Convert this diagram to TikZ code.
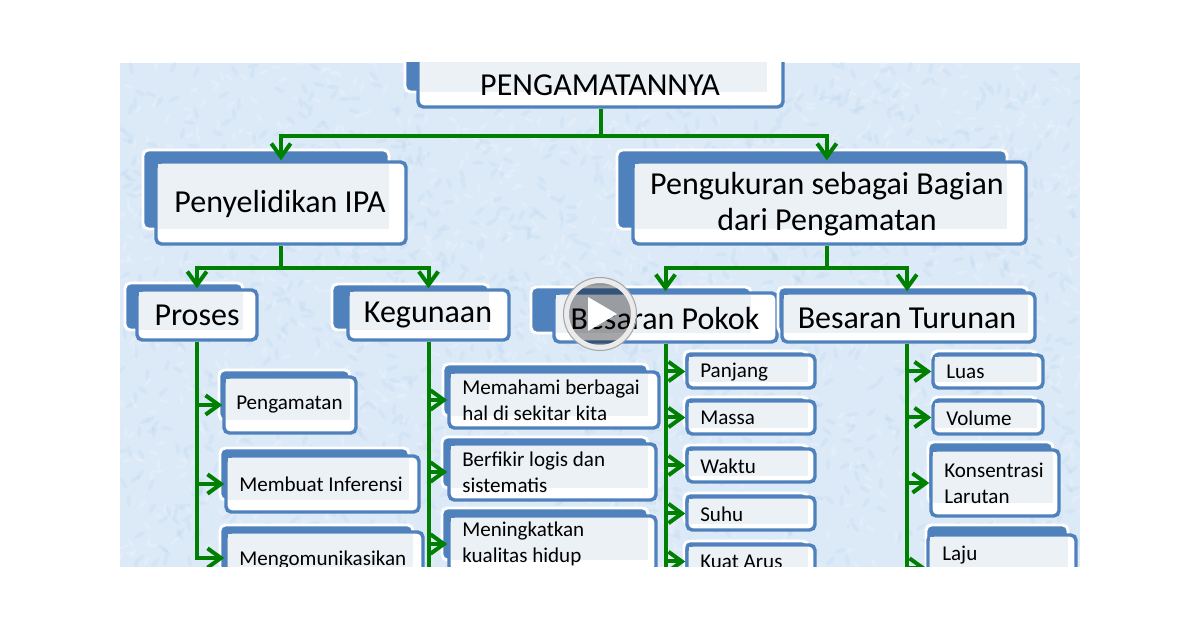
\documentclass[tikz,border=0pt]{standalone}
\usepackage{xcolor}
\usepackage{fontspec}
\setmainfont{Carlito}
\usetikzlibrary{arrows.meta,fit}
\definecolor{hijauPanah}{HTML}{008000}
\definecolor{biruKotak}{HTML}{4F81BD}
\definecolor{isiKotak}{HTML}{ECF1F6}
\definecolor{latarBiru}{HTML}{DCEAF8}
\definecolor{latarTua}{HTML}{C3D9F0}
\definecolor{latarMuda}{HTML}{F2F7FC}
\tikzset{
  garis/.style={hijauPanah,line width=3pt},
  panah/.style={garis,-{Straight Barb[length=10pt,width=14.5pt,line width=3pt]}},
  belakang/.style={fill=biruKotak,draw=white,line width=2.2pt,rounded corners=4pt},
  depan/.style={fill=white,draw=biruKotak,line width=2.6pt,rounded corners=4pt,inner sep=0pt},
  teksBesar/.style={font=\fontsize{24}{27}\selectfont,align=center,inner sep=0pt,yshift=-1.6pt},
  teksSedang/.style={font=\fontsize{24}{26}\selectfont,inner sep=0pt,yshift=-1pt},
  teksKecil/.style={font=\fontsize{15.8}{19.5}\selectfont,align=left,anchor=west,inner sep=0pt},
}
% nama, kotak depan (x0,y0,x1,y1), kotak belakang (x0,y0,x1,y1)
\newcommand{\kotak}[9]{
  \draw[belakang] (#6,#7) rectangle (#8,#9);
  \node[depan,fit={(#2,#3)(#4,#5)}] (#1) {};
  \fill[isiKotak] ({#2+2},{#3+2}) rectangle (#8,#9);
}
\begin{document}
\begin{tikzpicture}[x=0.75pt,y=-0.75pt]
\useasboundingbox (0,0) rectangle (1200,630);
\begin{scope}
\clip (120,63) rectangle (1080,567);
\fill[latarBiru] (120,63) rectangle (1080,567);
% tekstur latar
\pgfmathsetseed{7}
\foreach \i in {1,...,1400}{
  \pgfmathsetmacro{\px}{120+960*rnd}
  \pgfmathsetmacro{\py}{63+504*rnd}
  \pgfmathsetmacro{\sudut}{180*rnd}
  \fill[latarTua,opacity=0.35,rotate around={\sudut:(\px,\py)}] (\px,\py) ellipse (6 and 2);
  \pgfmathsetmacro{\px}{120+960*rnd}
  \pgfmathsetmacro{\py}{63+504*rnd}
  \fill[latarMuda,opacity=0.28,rotate around={\sudut:(\px,\py)}] (\px,\py) ellipse (5 and 1.6);
}
\coordinate (bawah) at (600,575);
% kotak atas
\kotak{akar}{418}{30}{783}{107}{405}{20}{767}{92}
\node[teksBesar] (akarT) at (600,83) {PENGAMATANNYA};
\kotak{selidik}{156}{162}{406}{244}{143}{150}{389}{229}
\node[teksBesar] (selidikT) at (280,202) {Penyelidikan IPA};
\kotak{ukur}{633}{162}{1026}{244}{617}{150}{1007}{229}
\node[teksBesar] (ukurT) at (827,202) {Pengukuran sebagai Bagian\\dari Pengamatan};
% kotak tengah
\kotak{proses}{137}{290}{257}{340}{125}{283}{243}{330}
\node[teksSedang] (prosesT) at (197,314) {Proses};
\kotak{guna}{348}{290}{509}{340}{332}{284}{489}{330}
\node[teksSedang] (gunaT) at (428,314) {Kegunaan};
\kotak{pokok}{554}{293}{777}{342}{531}{287}{751}{333}
\node[teksSedang] (pokokT) at (665,317) {Besaran Pokok};
\kotak{turunan}{782}{293}{1035}{342}{778}{287}{1028}{333}
\node[teksSedang] (turunanT) at (907,317) {Besaran Turunan};
% proses
\kotak{amat}{224}{377}{356}{433}{219}{370}{350}{420}
\node[teksKecil] (amatT) at (236,405) {Pengamatan};
\kotak{infer}{226}{456}{419}{512}{220}{448}{409}{500}
\node[teksKecil] (inferT) at (239,484) {Membuat Inferensi};
\kotak{komunikasi}{226}{532}{423}{584}{220}{525}{413}{572}
\node[teksKecil] (komunikasiT) at (239,560) {Mengomunikasikan};
% kegunaan
\kotak{paham}{449}{372}{659}{428}{443}{364}{648}{416}
\node[teksKecil] (pahamT) at (462,400) {Memahami berbagai\\hal di sekitar kita};
\kotak{fikir}{449}{444}{656}{500}{442}{437}{648}{488}
\node[teksKecil] (fikirT) at (462,472) {Berfikir logis dan\\sistematis};
\kotak{mutu}{449}{516}{656}{572}{442}{508}{648}{560}
\node[teksKecil] (mutuT) at (462,544) {Meningkatkan\\kualitas hidup};
% besaran pokok
\kotak{panjang}{687}{355}{815}{388}{684}{351}{808}{382}
\node[teksKecil] (panjangT) at (700,372) {Panjang};
\kotak{massa}{687}{401}{815}{434}{684}{397}{808}{428}
\node[teksKecil] (massaT) at (700,418) {Massa};
\kotak{waktu}{687}{449}{815}{482}{684}{445}{808}{476}
\node[teksKecil] (waktuT) at (700,466) {Waktu};
\kotak{suhu}{687}{497}{815}{530}{684}{493}{808}{524}
\node[teksKecil] (suhuT) at (700,514) {Suhu};
\kotak{arus}{687}{545}{815}{578}{684}{541}{808}{572}
\node[teksKecil] (arusT) at (700,562) {Kuat Arus};
% besaran turunan
\kotak{luas}{933}{355}{1043}{388}{932}{351}{1037}{382}
\node[teksKecil] (luasT) at (946,372) {Luas};
\kotak{volume}{933}{401}{1043}{434}{932}{397}{1037}{428}
\node[teksKecil] (volumeT) at (946,418) {Volume};
\kotak{larutan}{931}{450}{1059}{516}{928}{442}{1053}{503}
\node[teksKecil] (larutanT) at (944,483) {Konsentrasi\\Larutan};
\kotak{laju}{928}{535}{1076}{601}{926}{525}{1068}{590}
\node[teksKecil] (lajuT) at (942,555) {Laju};
% penghubung
\draw[panah] (akar.south) -- ++(0,27) -| (selidik.north);
\draw[panah] (akar.south) -- ++(0,27) -| ([xshift=-2pt]ukur.north);
\draw[panah] (selidik.south) -- ++(0,22) -| (proses.north);
\draw[panah] (selidik.south) -- ++(0,22) -| (guna.north);
\draw[panah] ([xshift=-2pt]ukur.south) -- ++(0,22) -| (pokok.north);
\draw[panah] ([xshift=-2pt]ukur.south) -- ++(0,22) -| ([xshift=-1pt]turunan.north);
\draw[panah] (proses.south) |- (amat.west);
\draw[panah] (proses.south) |- (infer.west);
\draw[panah] (proses.south) |- (komunikasi.west);
\draw[garis] (guna.south) -- (guna.south |- bawah);
\draw[panah] (guna.south) |- (paham.west);
\draw[panah] (guna.south) |- (fikir.west);
\draw[panah] (guna.south) |- (mutu.west);
\draw[garis] (pokok.south) -- (pokok.south |- bawah);
\draw[panah] (pokok.south) |- (panjang.west);
\draw[panah] (pokok.south) |- (massa.west);
\draw[panah] (pokok.south) |- (waktu.west);
\draw[panah] (pokok.south) |- (suhu.west);
\draw[panah] (pokok.south) |- (arus.west);
\draw[garis] ([xshift=-1pt]turunan.south) -- ([xshift=-1pt]turunan.south |- bawah);
\draw[panah] ([xshift=-1pt]turunan.south) |- (luas.west);
\draw[panah] ([xshift=-1pt]turunan.south) |- (volume.west);
\draw[panah] ([xshift=-1pt]turunan.south) |- (larutan.west);
\draw[panah] ([xshift=-1pt]turunan.south) |- (laju.west);
\end{scope}
% tombol putar
\fill[black,opacity=0.35] (600,314) circle (32);
\draw[white!92!black,line width=3.8pt] (600,314) circle (33.5);
\draw[gray!70,line width=0.8pt] (600,314) circle (36.5);
\fill[white] (588,297) -- (617,314) -- (588,331) -- cycle;
\end{tikzpicture}
\end{document}
